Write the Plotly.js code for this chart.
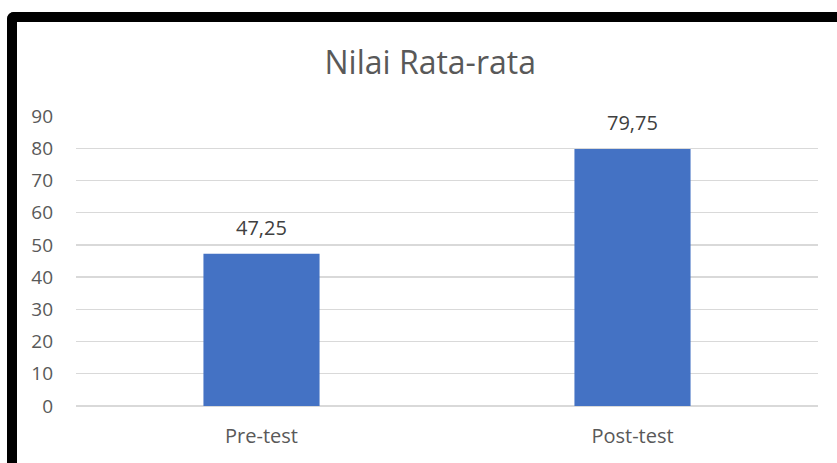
<!DOCTYPE html>
<html>
<head>
<meta charset="utf-8">
<script src="https://cdn.plot.ly/plotly-3.0.1.min.js"></script>
<style>
html, body { margin: 0; padding: 0; overflow: hidden; background: #fff; }
#wrap { position: relative; width: 837px; height: 463px; overflow: hidden; }
#chart { width: 837px; height: 463px; }
#frame { position: absolute; left: 7px; top: 12px; width: 900px; height: 600px;
  border-top: 10px solid #000; border-left: 10px solid #000; border-top-left-radius: 7px;
  pointer-events: none; box-sizing: border-box; }
</style>
</head>
<body>
<div id="wrap">
<div id="chart"></div>
<div id="frame"></div>
</div>
<script>
const categories = ['Pre-test', 'Post-test'];
const values = [47.25, 79.75];
const chartTitle = 'Nilai Rata-rata';

const fontFam = '"Open Sans", Lato, sans-serif';

const trace = {
  type: 'bar',
  x: categories,
  y: values,
  width: 0.313,
  marker: { color: '#4472C4' },
  hoverinfo: 'x+y'
};

const annotations = categories.map((c, i) => ({
  x: c, y: values[i], xref: 'x', yref: 'y',
  text: values[i].toFixed(2).replace('.', ','),
  showarrow: false, yanchor: 'bottom', yshift: 11,
  font: { family: fontFam, size: 20, color: '#404040' }
}));

const layout = {
  width: 837, height: 463,
  margin: { l: 76, r: 19, t: 116, b: 57 },
  paper_bgcolor: '#fff', plot_bgcolor: '#fff',
  separators: ',.',
  showlegend: false,
  title: {
    text: chartTitle,
    x: 0.514, xref: 'container', xanchor: 'center',
    y: 0.864, yref: 'container', yanchor: 'middle',
    font: { family: fontFam, size: 32, color: '#595959' }
  },
  xaxis: {
    type: 'category', range: [-0.5, 1.5],
    showgrid: false, zeroline: false, showline: false, ticks: '',
    ticklabelstandoff: 16,
    tickfont: { family: fontFam, size: 20, color: '#595959' },
    fixedrange: true
  },
  yaxis: {
    range: [0, 90], dtick: 10, tick0: 0,
    showgrid: true, gridcolor: '#d9d9d9', gridwidth: 1.3,
    zeroline: true, zerolinecolor: '#d9d9d9', zerolinewidth: 1.3,
    showline: false, ticks: '',
    ticklabelstandoff: 22,
    tickfont: { family: fontFam, size: 19, color: '#595959' },
    fixedrange: true
  },
  annotations: annotations
};

Plotly.newPlot('chart', [trace], layout, { displayModeBar: false, staticPlot: true });
</script>
</body>
</html>
